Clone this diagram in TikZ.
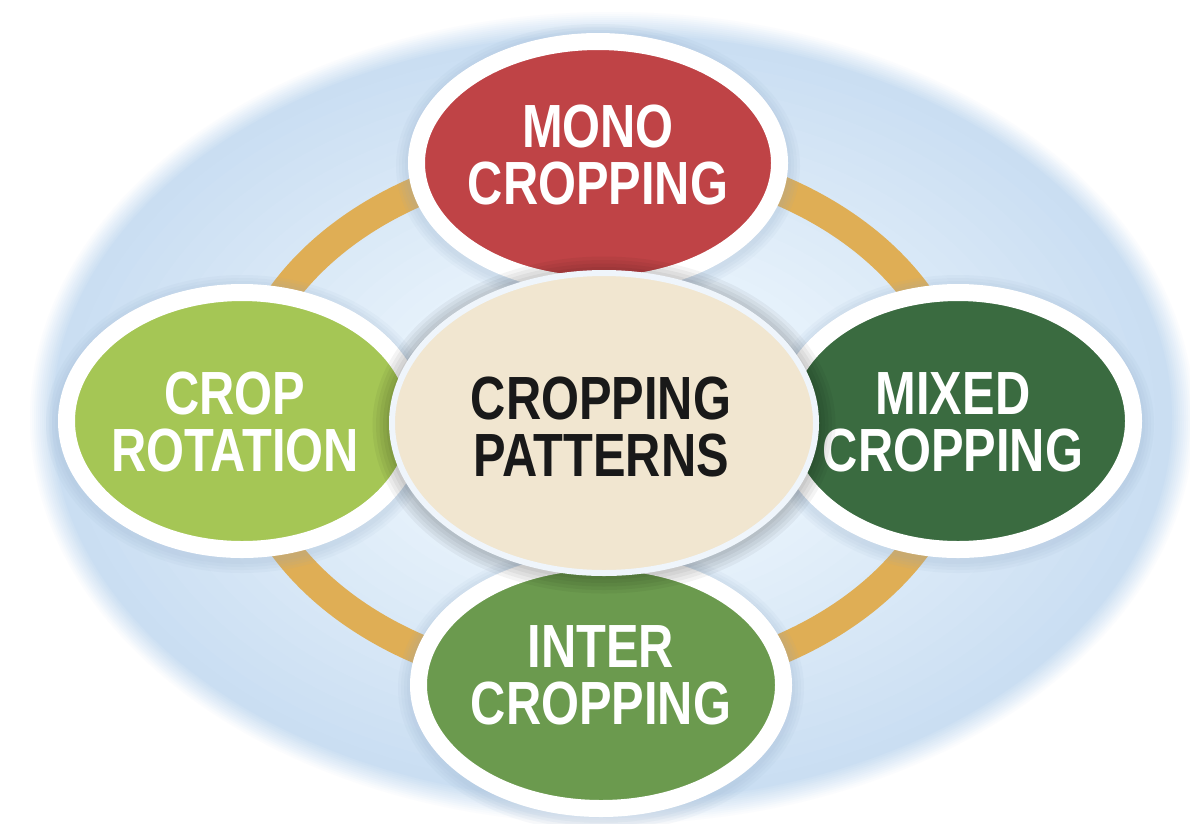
\documentclass[tikz,border=0pt]{standalone}
\usepackage{fontspec}
\setmainfont{Liberation Sans}
\usetikzlibrary{shapes.geometric}
\definecolor{monored}{HTML}{BF4346}
\definecolor{rotgreen}{HTML}{A5C655}
\definecolor{mixgreen}{HTML}{3A6B40}
\definecolor{intgreen}{HTML}{6B9A4E}
\definecolor{corebeige}{HTML}{F1E6D0}
\definecolor{ringgold}{HTML}{DFAE55}
\definecolor{bgcenter}{HTML}{E7F2FB}
\definecolor{bgedge}{HTML}{CADEF2}
\definecolor{halo}{HTML}{8FA9C6}
% two centred lines, shifted by #1 (x) and #2 (y)
\newcommand\twol[4]{\makebox[0pt][l]{\kern#1\relax
  \raisebox{\dimexpr#2+6.5pt\relax}[0pt][0pt]{\makebox[0pt]{\scalebox{0.8}[1]{#3}}}%
  \raisebox{\dimexpr#2-50.5pt\relax}[0pt][0pt]{\makebox[0pt]{\scalebox{0.8}[1]{#4}}}}}
\tikzset{
  petal/.style={ellipse, draw=white, line width=17pt, inner sep=0pt,
    text=white, font=\fontsize{61pt}{57pt}\selectfont\bfseries},
  hub/.style={ellipse, draw=white!70!bgedge, line width=6pt, inner sep=0pt,
    fill=corebeige, text=black!90,
    font=\fontsize{61pt}{57pt}\selectfont\bfseries},
}
\begin{document}
\begin{tikzpicture}[x=1pt,y=-1pt]
\useasboundingbox (0,0) rectangle (1190,823);
\fill[white] (0,0) rectangle (1190,823);
% background disc with soft rim
\coordinate (bgc) at (612,418);
\foreach \i [evaluate=\i as \p using int(\i*100/12)] in {0,...,12}
  \fill[bgedge!\p!white] (bgc) ellipse [x radius=584-2*\i, y radius=408-2*\i];
\foreach \j [evaluate=\j as \q using int(\j*5), evaluate=\j as \s using 1-\j*0.03] in {1,...,20}
  \fill[bgcenter!\q!bgedge] (bgc) ellipse [x radius=560*\s, y radius=384*\s];
% gold ring
\draw[ringgold, line width=30pt] (600,420) ellipse [x radius=360, y radius=265];
% soft halos under the outer ellipses
\foreach \cx/\cy/\rx/\ry in {598/163/190/130, 242/421/184/137, 958/421/184/137, 601/685/191/132}
  \foreach \k in {1,...,4}
    \fill[halo, opacity=0.07] (\cx,\cy+3) ellipse [x radius=\rx+\k*3, y radius=\ry+\k*3];
% outer ellipses
\node[petal, fill=monored, minimum width=363pt, minimum height=243pt] (mono) at (598,163)
  {\twol{0pt}{9.5pt}{MONO}{CROPPING}};
\node[petal, fill=rotgreen, minimum width=351pt, minimum height=257pt] (rot) at (242,421)
  {\twol{-7pt}{0pt}{CROP}{ROTATION}};
\node[petal, fill=mixgreen, minimum width=351pt, minimum height=257pt] (mix) at (958,421)
  {\twol{-5pt}{0pt}{MIXED}{CROPPING}};
\node[petal, fill=intgreen, minimum width=365pt, minimum height=247pt] (inter) at (601,685)
  {\twol{0pt}{11.5pt}{INTER}{CROPPING}};
% shadow of the hub
\foreach \k in {1,...,5}
  \fill[black, opacity=0.045] (604,425) ellipse [x radius=214+\k*3.5, y radius=151+\k*3.5];
% hub
\node[hub, minimum width=424pt, minimum height=300pt] (core) at (604,423)
  {\twol{-3pt}{-3pt}{CROPPING}{PATTERNS}};
\end{tikzpicture}
\end{document}
